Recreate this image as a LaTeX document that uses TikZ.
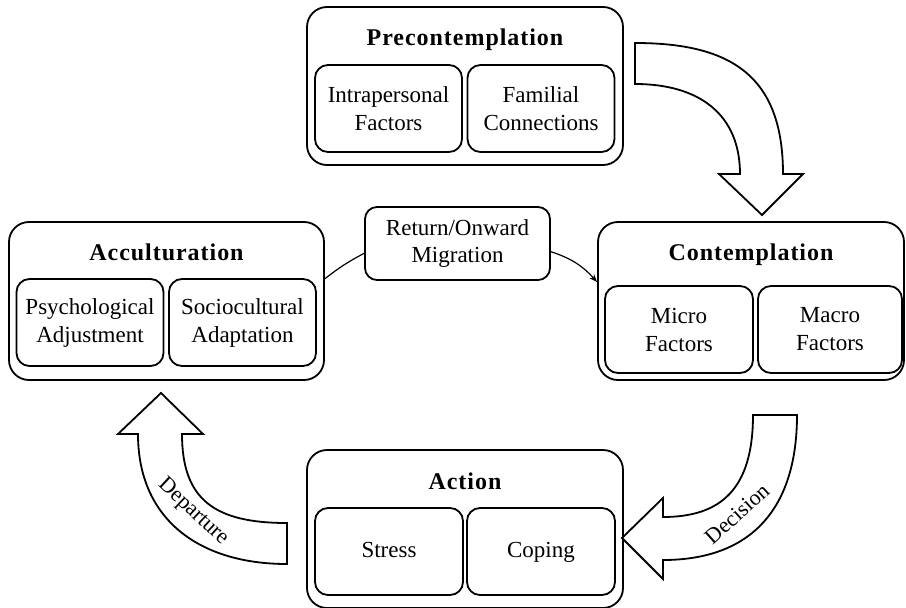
\documentclass[tikz,border=0pt]{standalone}
\usepackage{fontspec}
\setmainfont{Liberation Serif}
\newfontfamily\titlefont[LetterSpace=4]{Liberation Serif}
\usetikzlibrary{arrows.meta}
\tikzset{
  outerbox/.style={draw, line width=1.8pt, rounded corners=20pt, fill=white, inner sep=0pt, minimum height=158pt},
  innerbox/.style={draw, line width=1.8pt, rounded corners=13pt, fill=white, inner sep=0pt, minimum height=87pt, minimum width=147pt, align=center, font=\fontsize{23}{28}\selectfont},
  onelinebox/.style={innerbox, text height=16pt, text depth=5pt},
  titletext/.style={anchor=base, inner sep=0pt, font=\titlefont\bfseries\fontsize{24}{28}\selectfont},
  retbox/.style={draw, line width=1.8pt, rounded corners=12pt, fill=white, inner sep=0pt, minimum width=185pt, minimum height=73pt, align=center, font=\fontsize{23}{27}\selectfont},
  blockarrow/.style={draw, line width=1.8pt, fill=white, line join=miter},
  arrowtext/.style={inner sep=0pt, font=\fontsize{22}{26}\selectfont},
  conn/.style={draw, line width=1.2pt}
}
\begin{document}
\begin{tikzpicture}[x=1pt,y=-1pt]
\useasboundingbox (0,0) rectangle (906,608);
\clip (0,0) rectangle (906,608);

% outer boxes
\node[outerbox, minimum width=316pt] (pre) at (465,86) {};
\node[outerbox, minimum width=315pt] (acc) at (166.5,301) {};
\node[outerbox, minimum width=306pt] (con) at (751,301) {};
\node[outerbox, minimum width=316pt] (act) at (465,529) {};

% titles
\node[titletext] (preT) at (465,45) {Precontemplation};
\node[titletext] (accT) at (166.5,260) {Acculturation};
\node[titletext] (conT) at (751,260) {Contemplation};
\node[titletext] (actT) at (465,489) {Action};

% inner boxes
\node[innerbox] (pre1) at (388.5,108.5) {Intrapersonal\\Factors};
\node[innerbox] (pre2) at (541,108.5) {Familial\\Connections};
\node[innerbox] (acc1) at (90,322.5) {Psychological\\Adjustment};
\node[innerbox] (acc2) at (242.5,322.5) {Sociocultural\\Adaptation};
\node[innerbox, minimum width=148pt] (con1) at (679,329.5) {Micro\\Factors};
\node[innerbox, minimum width=144pt] (con2) at (830,329.5) {Macro\\Factors};
\node[onelinebox, minimum width=148pt] (act1) at (389,551.5) {Stress};
\node[onelinebox, minimum width=148pt] (act2) at (541,551.5) {Coping};

% return / onward migration
\node[retbox] (ret) at (457.5,243.5) {Return/Onward\\Migration};
\draw[conn] (acc.8) to[bend left=5] (ret.186);
\draw[conn, -{Stealth[length=8pt,width=6pt]}] (ret.-5) to[bend left=15] (con.173);

% block arrows
\draw[blockarrow] (635,43) .. controls (730,43) and (783,75) .. (783,174)
  -- (803,174) -- (762,215) -- (719,174) -- (740,174)
  .. controls (740,115) and (700,84) .. (635,84) -- cycle;
\draw[blockarrow] (753,415) -- (797,415) .. controls (797,510) and (750,560) .. (663,560)
  -- (663,579) -- (622,538) -- (663,498) -- (663,517)
  .. controls (720,517) and (753,490) .. (753,415) -- cycle;
\draw[blockarrow] (287,523) -- (287,564) .. controls (200,564) and (138,520) .. (138,434)
  -- (118,434) -- (161,393) -- (203,434) -- (182,434)
  .. controls (182,500) and (215,523) .. (287,523) -- cycle;

\node[arrowtext, rotate=42] (dec) at (737,514) {Decision};
\node[arrowtext, rotate=-43] (dep) at (193,512) {Departure};
\end{tikzpicture}
\end{document}
